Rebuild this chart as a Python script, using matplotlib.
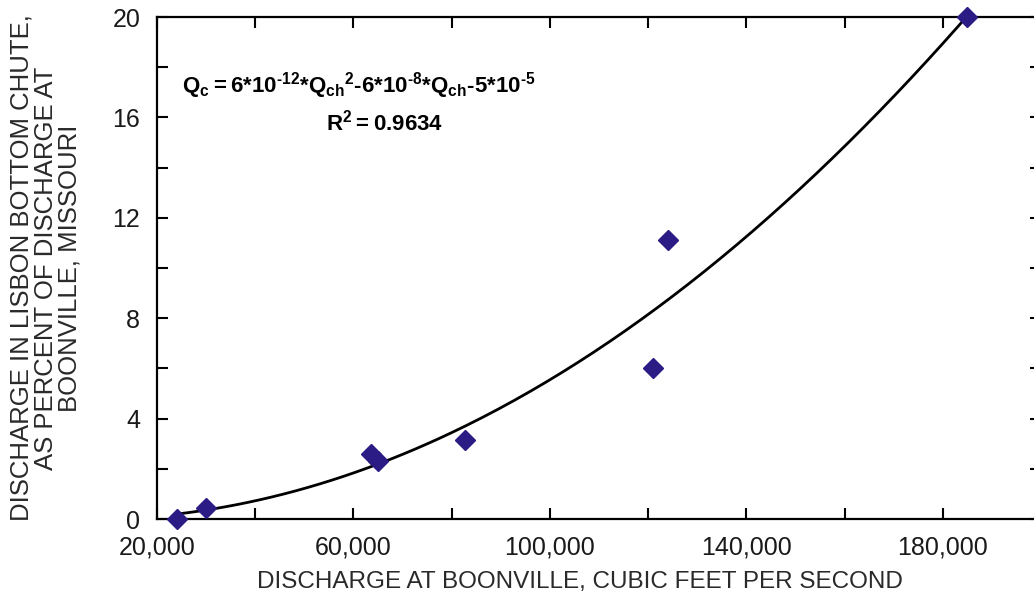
import numpy as np
import matplotlib.pyplot as plt
from matplotlib.ticker import MultipleLocator, FuncFormatter

plt.rcParams['font.family'] = ['Liberation Sans', 'DejaVu Sans']
plt.rcParams['mathtext.fontset'] = 'custom'
plt.rcParams['mathtext.bf'] = 'Liberation Sans:bold'
plt.rcParams['mathtext.rm'] = 'Liberation Sans:bold'
plt.rcParams['mathtext.default'] = 'bf'

# measured discharge at Boonville (cfs) and chute share (percent)
discharge_boonville = [24000, 30000, 63500, 65000, 82800, 121000, 124000, 185000]
chute_percent = [0.0, 0.45, 2.6, 2.3, 3.15, 6.0, 11.1, 20.0]

x_ticks = [20000, 60000, 100000, 140000, 180000]
y_ticks = [0, 4, 8, 12, 16, 20]

# second-order trend line through the measurements
coef = np.polyfit(discharge_boonville, chute_percent, 2)
q_fit = np.linspace(min(discharge_boonville), max(discharge_boonville), 200)
pct_fit = np.polyval(coef, q_fit)

fig = plt.figure(figsize=(10.34, 6.01), dpi=100)
ax = fig.add_axes([0.1518, 0.1364, 0.855, 0.8353])

ax.plot(q_fit, pct_fit, color='black', lw=2.0, zorder=2)
ax.plot(discharge_boonville, chute_percent, linestyle='none', marker='D',
        ms=10.5, color='#2B1B84', mec='#2B1B84', zorder=3, clip_on=False)

ax.set_xlim(20000, 200000)
ax.set_ylim(0, 20)
ax.set_xticks(x_ticks)
ax.set_yticks(y_ticks)
ax.xaxis.set_minor_locator(MultipleLocator(20000))
ax.yaxis.set_minor_locator(MultipleLocator(2))
ax.xaxis.set_major_formatter(FuncFormatter(lambda v, p: f'{int(v):,}'))
ax.tick_params(which='both', direction='in', top=True, right=True,
               length=8, width=1.5, labelsize=18, colors='black',
               labelcolor='#1a1a1a')
ax.tick_params(axis='x', pad=12)
ax.tick_params(axis='y', pad=12)
for s in ax.spines.values():
    s.set_linewidth(1.6)

ax.set_xlabel('DISCHARGE AT BOONVILLE, CUBIC FEET PER SECOND',
              fontsize=17.5, color='#2a2a2a')
ax.xaxis.set_label_coords(0.478, -0.104)
ax.set_ylabel('DISCHARGE IN LISBON BOTTOM CHUTE,\nAS PERCENT OF DISCHARGE AT\nBOONVILLE, MISSOURI',
              fontsize=18.5, color='#2a2a2a', linespacing=1.0, labelpad=22)

# trend equation, hyphens kept as plain hyphens (U+2010)
hy = '\u2010'
eq = (r'$Q_c = 6{*}10^{' + hy + r'12}{*}Q_{ch}{}^{2}' + hy +
      r'6{*}10^{' + hy + r'8}{*}Q_{ch}' + hy + r'5{*}10^{' + hy + r'5}$')
ax.text(0.228, 0.864, eq, transform=ax.transAxes, ha='center', va='center',
        fontsize=16)
ax.text(0.258, 0.79, r'$R^2 = 0.9634$', transform=ax.transAxes,
        ha='center', va='center', fontsize=16)

fig.savefig('out.png', dpi=100)
